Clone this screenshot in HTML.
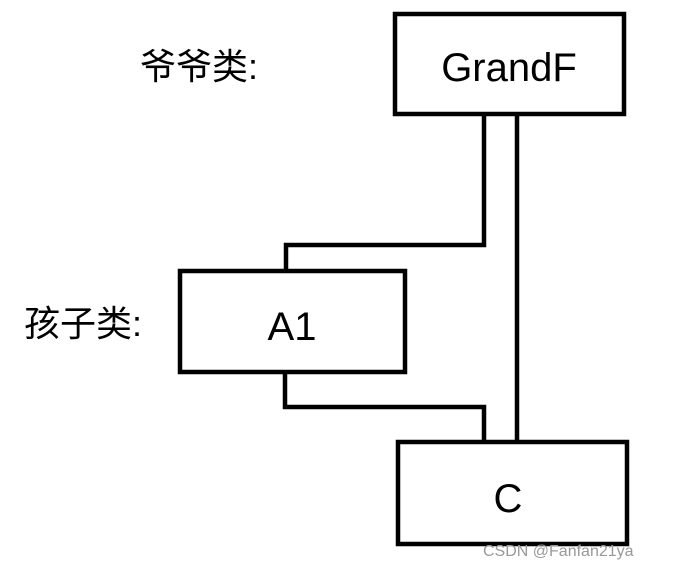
<!DOCTYPE html>
<html><head><meta charset="utf-8"><style>
html,body{margin:0;padding:0;background:#fff;}
body{width:677px;height:569px;position:relative;overflow:hidden;}
svg{position:absolute;left:0;top:0;}
</style></head><body>
<svg width="677" height="569" viewBox="0 0 677 569">
<g fill="none" stroke="#000" stroke-width="4.5">
<rect x="395" y="14" width="229" height="100"/>
<rect x="180" y="271" width="225" height="101"/>
<rect x="398" y="442" width="229" height="102"/>
<polyline points="484,116 484,245 286,245 286,271"/>
<line x1="517" y1="116" x2="517" y2="442"/>
<polyline points="285,372 285,407 484,407 484,442"/>
</g>
<g font-family="'Liberation Sans','Noto Sans CJK SC',sans-serif" fill="#000">
<text x="509" y="81" font-size="40" text-anchor="middle">GrandF</text>
<text x="292" y="340" font-size="40" text-anchor="middle">A1</text>
<text x="508" y="512" font-size="40" text-anchor="middle">C</text>
<text x="140" y="79" font-size="36">爷爷类:</text>
<text x="24" y="336" font-size="36">孩子类:</text>
<text x="483" y="556" font-size="16" fill="#999">CSDN @Fanfan21ya</text>
</g>
</svg>
</body></html>
